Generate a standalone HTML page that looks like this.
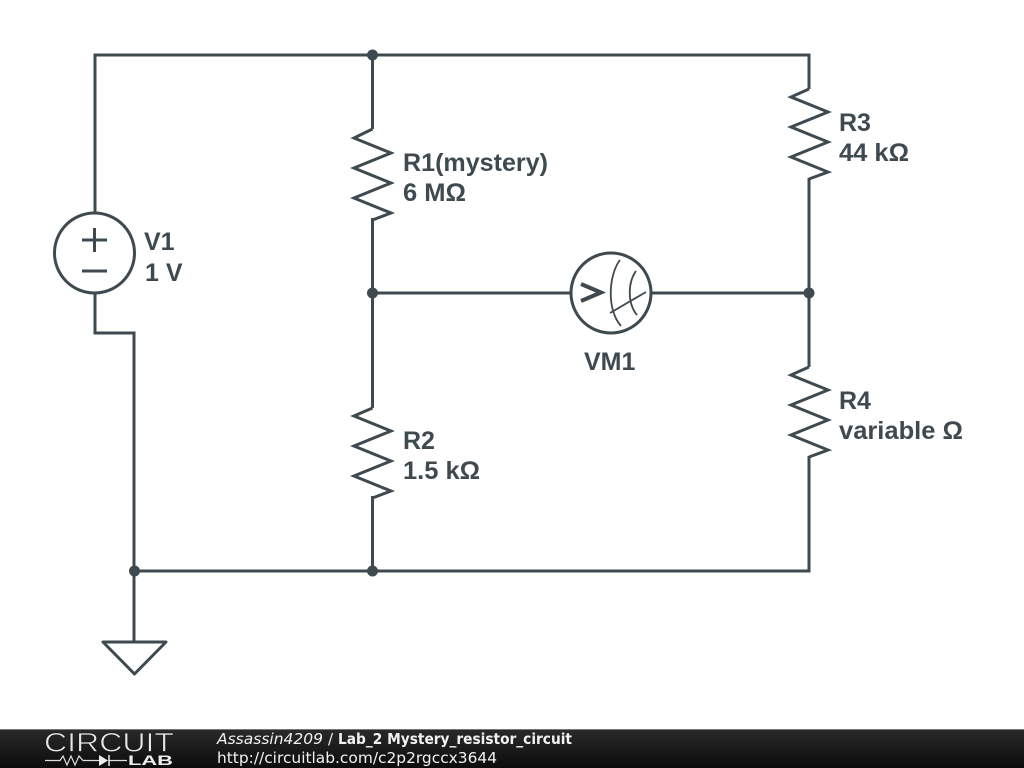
<!DOCTYPE html>
<html><head><meta charset="utf-8"><style>
html,body{margin:0;padding:0;background:#fff;width:1024px;height:768px;overflow:hidden}
svg{display:block}
</style></head><body>
<svg width="1024" height="768" viewBox="0 0 1024 768" xmlns="http://www.w3.org/2000/svg">
<defs>
<linearGradient id="bar" x1="0" y1="0" x2="0" y2="1"><stop offset="0" stop-color="#2a2a2a"/><stop offset="1" stop-color="#0c0c0c"/></linearGradient>
</defs>
<rect width="1024" height="768" fill="#fff"/>
<g fill="none" stroke="#3f4a50" stroke-width="3" stroke-linejoin="miter" stroke-linecap="butt">
<path d="M95 213V55H809V89"/>
<path d="M95 293V333H134V642"/>
<path d="M134 571H809V456"/>
<path d="M372.500 55V129M372.500 218V408M372.500 496V571"/>
<path d="M809 178V367"/>
<path d="M372.500 293H571M651 293H809"/>
<path d="M372.500 129L354 138L391 153L354 168L391 183L354 198L391 213L372.500 220"/>
<path d="M372.500 408L354 416L391 431L354 446L391 461L354 476L391 491L372.500 498"/>
<path d="M809 89L791 97L828 112L791 127L828 142L791 157L828 172L809 179"/>
<path d="M809 367L791 375L828 390L791 405L828 420L791 435L828 450L809 457"/>
<circle cx="94.500" cy="253" r="40"/>
<path d="M82 240H107M94.500 228V252M82 271H107"/>
<circle cx="611" cy="293" r="40"/>
<path d="M581 284L601 292.500L581 301" stroke-width="4"/>
<path d="M620 260C609 274 606 309 621 326" stroke-width="1.800"/>
<path d="M636 271C628 282 627 303 637 315" stroke-width="1.800"/>
<path d="M610 313L646 292" stroke-width="1.800"/>
<path d="M103 642H166L134.500 674Z" stroke-linejoin="round"/>
</g>
<g fill="#3f4a50">
<circle cx="372.500" cy="55" r="5.500"/>
<circle cx="372.500" cy="293" r="5.500"/>
<circle cx="809" cy="293" r="5.500"/>
<circle cx="134.500" cy="571" r="5.500"/>
<circle cx="372.500" cy="571" r="5.500"/>
</g>
<g font-family="'Liberation Sans',sans-serif" font-weight="700" font-size="25" fill="#3f4a50">
<text x="144" y="250">V1</text>
<text x="145" y="281">1 V</text>
<text x="403" y="171" textLength="145" lengthAdjust="spacingAndGlyphs">R1(mystery)</text>
<text x="403" y="201" textLength="63" lengthAdjust="spacingAndGlyphs">6 MΩ</text>
<text x="403" y="449">R2</text>
<text x="403" y="479" textLength="77" lengthAdjust="spacingAndGlyphs">1.5 kΩ</text>
<text x="839" y="131">R3</text>
<text x="839" y="161" textLength="70" lengthAdjust="spacingAndGlyphs">44 kΩ</text>
<text x="839" y="409">R4</text>
<text x="839" y="439" textLength="124" lengthAdjust="spacingAndGlyphs">variable Ω</text>
<text x="584" y="370">VM1</text>
</g>
<rect x="0" y="729" width="1024" height="39" fill="url(#bar)"/>
<rect x="0" y="729" width="1024" height="1" fill="#777"/>
<text x="44" y="751.500" font-family="'Liberation Sans',sans-serif" font-size="26.500" fill="#e8e8e8" stroke="#1c1c1c" stroke-width="0.700" textLength="130" lengthAdjust="spacingAndGlyphs">CIRCUIT</text>
<path d="M45 760.500H60L63 756L67 765L71 756L75 765L79 756L83 760.500H99M109 760.500H127" fill="none" stroke="#ddd" stroke-width="1.200"/>
<path d="M99 755V766L108 760.500Z" fill="#eee"/>
<path d="M109 755V766" stroke="#eee" stroke-width="1.500"/>
<text x="128" y="765" font-family="'Liberation Sans',sans-serif" font-weight="700" font-size="14" fill="#eee" textLength="45" lengthAdjust="spacingAndGlyphs">LAB</text>
<g font-family="'DejaVu Sans',sans-serif" fill="#f2f2f2">
<text x="217" y="744" font-size="15" font-style="italic" textLength="106" lengthAdjust="spacingAndGlyphs">Assassin4209</text>
<text x="328" y="744" font-size="15">/</text>
<text x="338" y="744" font-size="15" font-weight="700" textLength="234" lengthAdjust="spacingAndGlyphs">Lab_2 Mystery_resistor_circuit</text>
<text x="217" y="763" font-size="15" textLength="280" lengthAdjust="spacingAndGlyphs">http://circuitlab.com/c2p2rgccx3644</text>
</g>
</svg>
</body></html>
